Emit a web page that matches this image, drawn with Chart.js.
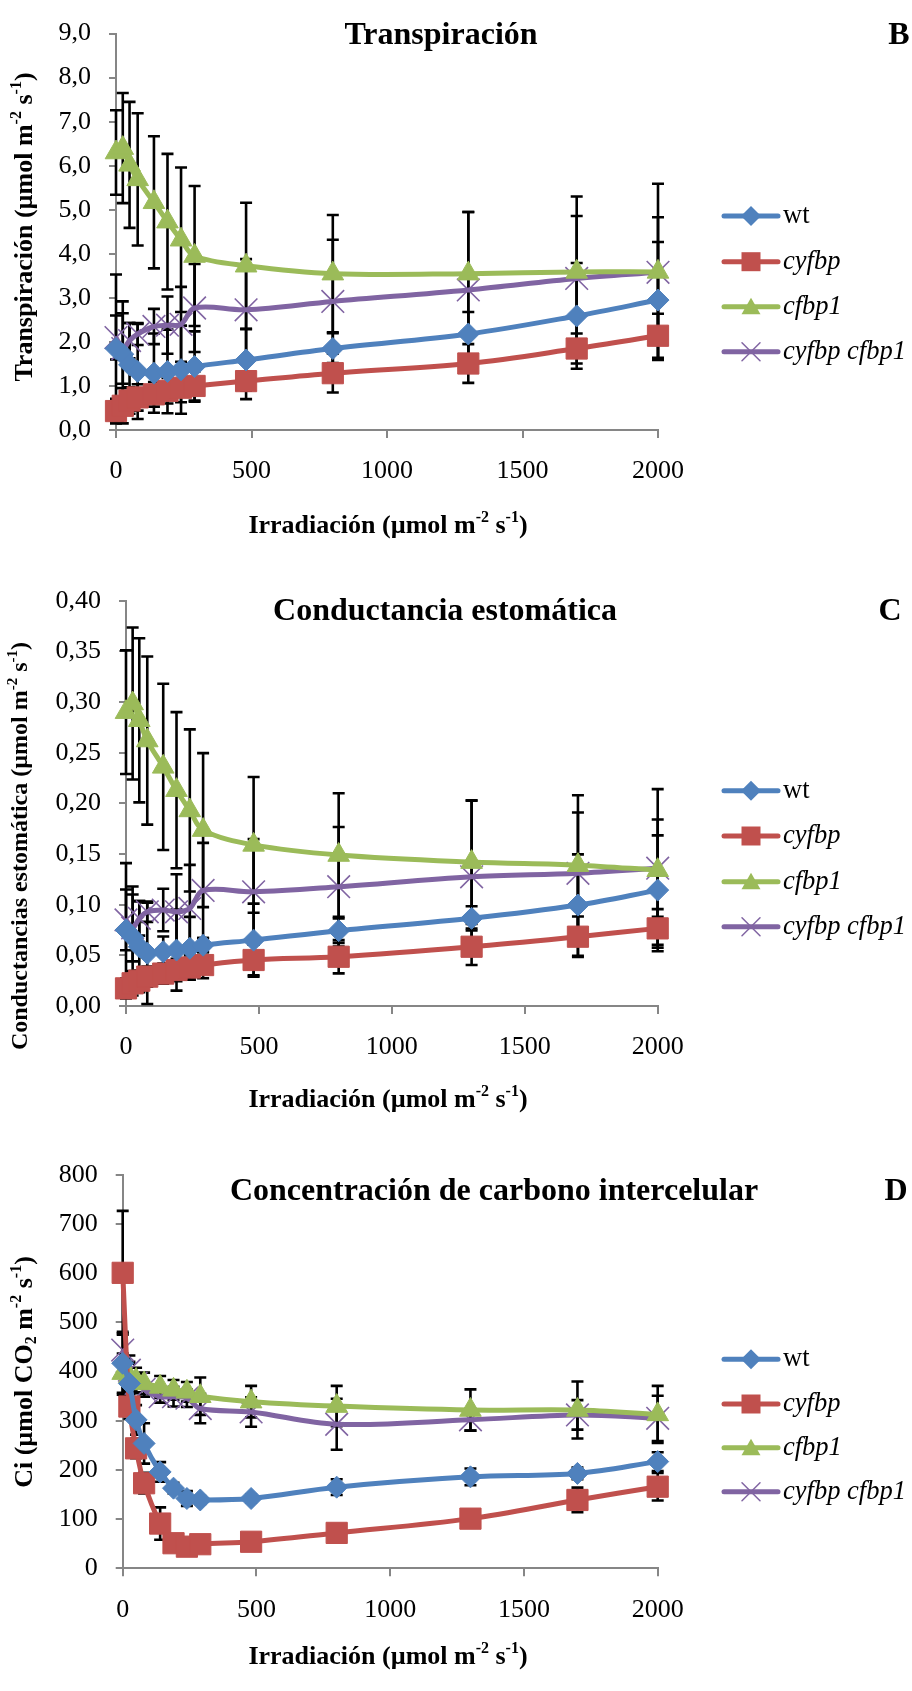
<!DOCTYPE html>
<html>
<head>
<meta charset="utf-8">
<script src="https://cdn.jsdelivr.net/npm/chart.js@4.4.0/dist/chart.umd.min.js"></script>
<style>
    body { margin: 0; background: #fff; }
    .panel { position: absolute; left: 0; width: 912px; }
</style>
</head>
<body>
<div class="panel" style="top:0;height:550px"><canvas id="chartB"></canvas></div>
<div class="panel" style="top:550px;height:580px"><canvas id="chartC"></canvas></div>
<div class="panel" style="top:1130px;height:561px"><canvas id="chartD"></canvas></div>
<script>
// Irradiance levels (x axis) and series names
const irradiance = [0, 25, 50, 80, 140, 190, 240, 290, 480, 800, 1300, 1700, 2000];
const seriesLabels = ['wt', 'cyfbp', 'cfbp1', 'cyfbp cfbp1'];
const seriesColors = ['#4F81BD', '#C0504D', '#9BBB59', '#8064A2'];
const seriesMarkers = ['rectRot', 'rect', 'triangle', 'crossRot'];

// B - Transpiracion
const transWt = [1.85, 1.72, 1.48, 1.33, 1.29, 1.33, 1.37, 1.44, 1.59, 1.85, 2.18, 2.59, 2.95];
const transCyfbp = [0.43, 0.55, 0.67, 0.74, 0.81, 0.89, 0.96, 1.00, 1.11, 1.29, 1.51, 1.85, 2.14];
const transCfbp1 = [6.30, 6.40, 6.02, 5.69, 5.17, 4.73, 4.32, 3.95, 3.73, 3.55, 3.55, 3.59, 3.59];
const transDouble = [2.10, 1.85, 2.03, 2.18, 2.35, 2.38, 2.40, 2.77, 2.73, 2.92, 3.18, 3.44, 3.58];
const transWtErr = [1.68, 1.20, 0.95, 1.08, 0.90, 0.95, 1.00, 0.80, 0.70, 0.35, 0.50, 1.20, 1.32];
const transCyfbpErr = [0.28, 0.40, 0.30, 0.30, 0.28, 0.29, 0.33, 0.33, 0.41, 0.44, 0.44, 0.34, 0.50];
const transCfbp1Err = [0.96, 1.25, 1.43, 1.50, 1.50, 1.54, 1.64, 1.59, 1.43, 1.33, 1.40, 1.71, 2.00];
const transDoubleErr = [0.50, 0.80, 0.40, 0.25, 0.40, 0.65, 0.85, 1.00, 1.15, 1.40, 1.77, 1.42, 1.25];
const transTickLabels = ['0,0', '1,0', '2,0', '3,0', '4,0', '5,0', '6,0', '7,0', '8,0', '9,0'];

// C - Conductancia estomatica
const condWt = [0.075, 0.068, 0.0585, 0.052, 0.0536, 0.0552, 0.057, 0.060, 0.065, 0.0743, 0.0865, 0.0996, 0.1144];
const condCyfbp = [0.0174, 0.0224, 0.025, 0.029, 0.032, 0.0355, 0.038, 0.0404, 0.0454, 0.0486, 0.0585, 0.0684, 0.0766];
const condCfbp1 = [0.290, 0.2985, 0.282, 0.262, 0.236, 0.213, 0.193, 0.1736, 0.159, 0.149, 0.142, 0.139, 0.134];
const condDouble = [0.085, 0.077, 0.0865, 0.093, 0.0947, 0.093, 0.0963, 0.114, 0.1127, 0.1177, 0.1275, 0.131, 0.136];
const condWtErr = [0.066, 0.050, 0.045, 0.050, 0.015, 0.040, 0.031, 0.007, 0.036, 0.012, 0.012, 0.050, 0.054];
const condCyfbpErr = [0.010, 0.012, 0.010, 0.010, 0.010, 0.011, 0.012, 0.013, 0.015, 0.0164, 0.018, 0.020, 0.019];
const condCfbp1Err = [0.061, 0.075, 0.081, 0.083, 0.082, 0.077, 0.080, 0.076, 0.067, 0.061, 0.061, 0.069, 0.080];
const condDoubleErr = [0.030, 0.033, 0.017, 0.010, 0.021, 0.037, 0.043, 0.047, 0.052, 0.059, 0.075, 0.060, 0.048];
const condTickLabels = ['0,00', '0,05', '0,10', '0,15', '0,20', '0,25', '0,30', '0,35', '0,40'];

// D - Concentracion de carbono intercelular
const ciWt = [417, 376, 302, 254, 196, 163, 142, 139, 142, 165, 186, 193, 217];
const ciCyfbp = [601, 329, 244, 173, 91, 51, 44, 49, 54, 72, 101, 139, 166];
const ciCfbp1 = [397, 390, 383, 376, 369, 363, 359, 350, 339, 330, 322, 322, 313];
const ciDouble = [444, 403, 376, 364, 349, 349, 346, 325, 318, 293, 302, 312, 305];
const ciWtErr = [64, 40, 30, 41, 20, 11, 15, 8, 8, 16, 17, 12, 19];
const ciCyfbpErr = [126, 25, 20, 21, 33, 10, 8, 8, 8, 8, 8, 25, 28];
const ciCfbp1Err = [40, 30, 25, 22, 22, 20, 20, 38, 32, 41, 42, 58, 58];
const ciDoubleErr = [34, 30, 20, 15, 12, 20, 18, 30, 30, 52, 22, 30, 46];
const ciTickLabels = ['0', '100', '200', '300', '400', '500', '600', '700', '800'];

const xTickLabels = ['0', '500', '1000', '1500', '2000'];
const xTitle = [['Irradiación (µmol m'], ['-2', 'sup'], [' s'], ['-1', 'sup'], [')']];

const FONT = '"Liberation Serif", "Times New Roman", serif';

// draws text with superscript / subscript parts, centered on x
function drawRich(ctx, parts, x, y, size, style) {
    let fontFor = function (k) {
        return style + ' ' + (k ? Math.round(size * 0.62) : size) + 'px ' + FONT;
    };
    let total = 0;
    parts.forEach(function (p) {
        ctx.font = fontFor(p[1]);
        total += ctx.measureText(p[0]).width;
    });
    let cx = x - total / 2;
    ctx.textAlign = 'left';
    ctx.textBaseline = 'middle';
    parts.forEach(function (p) {
        ctx.font = fontFor(p[1]);
        let dy = p[1] === 'sup' ? -size * 0.32 : (p[1] === 'sub' ? size * 0.25 : 0);
        ctx.fillText(p[0], cx, y + dy);
        cx += ctx.measureText(p[0]).width;
    });
}

// legend marker shapes
function drawMarker(ctx, kind, x, y, color) {
    ctx.save();
    ctx.fillStyle = color;
    ctx.strokeStyle = color;
    ctx.beginPath();
    if (kind === 'rectRot') {
        ctx.moveTo(x, y - 10); ctx.lineTo(x + 10, y); ctx.lineTo(x, y + 10); ctx.lineTo(x - 10, y);
        ctx.closePath(); ctx.fill();
    } else if (kind === 'rect') {
        ctx.rect(x - 9.5, y - 9.5, 19, 19); ctx.fill();
    } else if (kind === 'triangle') {
        ctx.moveTo(x, y - 9); ctx.lineTo(x + 9.5, y + 7.5); ctx.lineTo(x - 9.5, y + 7.5);
        ctx.closePath(); ctx.fill();
    } else {
        ctx.lineWidth = 1.5;
        ctx.moveTo(x - 9, y - 9); ctx.lineTo(x + 9, y + 9);
        ctx.moveTo(x + 9, y - 9); ctx.lineTo(x - 9, y + 9);
        ctx.stroke();
    }
    ctx.restore();
}

// error bars drawn from each dataset's errors array
const errorBarPlugin = {
    id: 'errorBars',
    beforeDatasetsDraw(chart) {
        const ctx = chart.ctx, xs = chart.scales.x, ys = chart.scales.y;
        ctx.save();
        ctx.strokeStyle = '#000';
        ctx.lineWidth = 2.6;
        chart.data.datasets.forEach(function (ds) {
            ds.data.forEach(function (p, i) {
                let e = ds.errors[i];
                let px = xs.getPixelForValue(p.x);
                let top = ys.getPixelForValue(p.y + e);
                let bot = ys.getPixelForValue(p.y - e);
                ctx.beginPath();
                ctx.moveTo(px, top); ctx.lineTo(px, bot);
                ctx.moveTo(px - 6, top); ctx.lineTo(px + 6, top);
                ctx.moveTo(px - 6, bot); ctx.lineTo(px + 6, bot);
                ctx.stroke();
            });
        });
        ctx.restore();
    }
};

// titles, axis titles and legend for one panel
function makeTextPlugin(t) {
    return {
        id: 'panelText',
        afterDraw(chart) {
            const ctx = chart.ctx;
            ctx.save();
            ctx.fillStyle = '#000';
            drawRich(ctx, [[t.title]], t.titleX, t.textY, 32, 'bold');
            drawRich(ctx, [[t.letter]], t.letterX, t.textY, 32, 'bold');
            drawRich(ctx, xTitle, t.xTitleX, t.xTitleY, 26, 'bold');
            ctx.save();
            ctx.translate(t.yTitleX, t.yTitleY);
            ctx.rotate(-Math.PI / 2);
            drawRich(ctx, t.yTitle, 0, 0, t.yTitleSize, 'bold');
            ctx.restore();
            // legend
            t.legendRows.forEach(function (ry, i) {
                ctx.strokeStyle = seriesColors[i];
                ctx.lineWidth = 5;
                ctx.lineCap = 'round';
                ctx.beginPath();
                ctx.moveTo(724, ry); ctx.lineTo(778, ry);
                ctx.stroke();
                drawMarker(ctx, seriesMarkers[i], 751, ry, seriesColors[i]);
                ctx.fillStyle = '#000';
                ctx.font = (i === 0 ? 'normal' : 'italic') + ' 26.5px ' + FONT;
                ctx.textAlign = 'left';
                ctx.textBaseline = 'middle';
                ctx.fillText(seriesLabels[i], 783, ry);
            });
            ctx.restore();
        }
    };
}

function buildDataset(i, values, errors) {
    let pts = [];
    for (let k = 0; k < irradiance.length; k++) {
        pts.push({ x: irradiance[k], y: values[k] });
    }
    let radius = [11, 15, 12.5, 16][i];
    return {
        label: seriesLabels[i],
        data: pts,
        errors: errors,
        borderColor: seriesColors[i],
        backgroundColor: seriesColors[i],
        borderWidth: 5,
        tension: 0.35,
        pointStyle: seriesMarkers[i],
        pointRadius: radius,
        pointHoverRadius: radius,
        pointBackgroundColor: seriesColors[i],
        pointBorderColor: seriesColors[i],
        pointBorderWidth: i === 3 ? 1.6 : 1,
        clip: false
    };
}

function makeChart(id, datasets, yMax, yStep, yLabels, box, text) {
    let ctx = document.getElementById(id).getContext('2d');
    return new Chart(ctx, {
        type: 'line',
        data: { datasets: datasets },
        plugins: [errorBarPlugin, makeTextPlugin(text)],
        options: {
            responsive: true,
            maintainAspectRatio: false,
            animation: false,
            events: [],
            layout: {
                padding: { left: 0, right: 912 - box.right, top: box.top, bottom: box.height - box.bottom - 60 }
            },
            plugins: { legend: { display: false }, tooltip: { enabled: false } },
            scales: {
                x: {
                    type: 'linear', min: 0, max: 2000,
                    afterFit: function (s) { s.height = 60; },
                    border: { color: '#868686', width: 2 },
                    grid: { drawOnChartArea: false, color: '#868686', lineWidth: 2, tickLength: 8 },
                    ticks: {
                        stepSize: 500, padding: 18, color: '#000', maxRotation: 0,
                        font: { family: FONT, size: 26 },
                        callback: function (v, i) { return xTickLabels[i]; }
                    }
                },
                y: {
                    min: 0, max: yMax,
                    afterFit: function (s) { s.width = box.left; },
                    border: { color: '#868686', width: 2 },
                    grid: { drawOnChartArea: false, color: '#868686', lineWidth: 2, tickLength: 7 },
                    ticks: {
                        stepSize: yStep, padding: 18, color: '#000',
                        font: { family: FONT, size: 26 },
                        callback: function (v, i) { return yLabels[i]; }
                    }
                }
            }
        }
    });
}

makeChart('chartB', [
    buildDataset(0, transWt, transWtErr),
    buildDataset(1, transCyfbp, transCyfbpErr),
    buildDataset(2, transCfbp1, transCfbp1Err),
    buildDataset(3, transDouble, transDoubleErr)
], 9, 1, transTickLabels,
    { left: 116, right: 658, top: 24, bottom: 430, height: 550 },
    {
        title: 'Transpiración', titleX: 441, letter: 'B', letterX: 899, textY: 36,
        xTitleX: 388, xTitleY: 526,
        yTitle: [['Transpiración (µmol m'], ['-2', 'sup'], [' s'], ['-1', 'sup'], [')']],
        yTitleX: 25, yTitleY: 227, yTitleSize: 26,
        legendRows: [216, 261.7, 306.7, 351.7]
    });

makeChart('chartC', [
    buildDataset(0, condWt, condWtErr),
    buildDataset(1, condCyfbp, condCyfbpErr),
    buildDataset(2, condCfbp1, condCfbp1Err),
    buildDataset(3, condDouble, condDoubleErr)
], 0.4, 0.05, condTickLabels,
    { left: 126, right: 657.7, top: 50.7, bottom: 456, height: 580 },
    {
        title: 'Conductancia estomática', titleX: 445, letter: 'C', letterX: 890, textY: 62,
        xTitleX: 388, xTitleY: 550,
        yTitle: [['Conductancias estomática (µmol m'], ['-2', 'sup'], [' s'], ['-1', 'sup'], [')']],
        yTitleX: 21, yTitleY: 296, yTitleSize: 24,
        legendRows: [240.7, 286, 331.7, 376.7]
    });

makeChart('chartD', [
    buildDataset(0, ciWt, ciWtErr),
    buildDataset(1, ciCyfbp, ciCyfbpErr),
    buildDataset(2, ciCfbp1, ciCfbp1Err),
    buildDataset(3, ciDouble, ciDoubleErr)
], 800, 100, ciTickLabels,
    { left: 122.7, right: 657.7, top: 45, bottom: 438.3, height: 561 },
    {
        title: 'Concentración de carbono intercelular', titleX: 494, letter: 'D', letterX: 896, textY: 62,
        xTitleX: 388, xTitleY: 527,
        yTitle: [['Ci (µmol CO'], ['2', 'sub'], [' m'], ['-2', 'sup'], [' s'], ['-1', 'sup'], [')']],
        yTitleX: 25, yTitleY: 242, yTitleSize: 26,
        legendRows: [229.3, 274, 317.7, 361.7]
    });
</script>
</body>
</html>
